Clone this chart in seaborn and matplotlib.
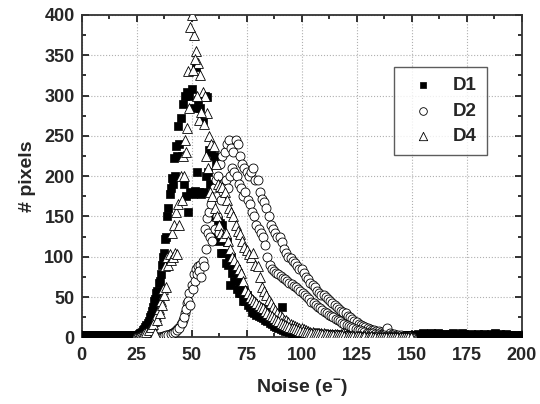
import numpy as np
import pandas as pd
import matplotlib
matplotlib.use("Agg")
import matplotlib.pyplot as plt
import seaborn as sns

# noise histograms, bins at whole and half electrons
noise_d1 = list(range(0, 201))
noise_core = list(range(25, 151))
noise_half = list(np.arange(25.5, 150, 1.0))

d1_counts = [
    3, 3, 3, 3, 3, 3, 3, 3, 3, 3,
    3, 3, 3, 3, 3, 3, 3, 3, 3, 3,
    3, 3, 3, 3, 3,
    3, 4, 6, 9, 13, 18, 25, 33, 45, 55,
    68, 78, 100, 122, 150, 178, 198, 222, 238, 262,
    272, 290, 300, 305, 300, 308, 285, 335, 295, 285,
    270, 300, 298, 232, 230, 225, 215, 145, 142, 140,
    125, 118, 100, 100, 90, 85, 75, 70, 62, 58,
    52, 48, 45, 42, 40, 38, 36, 35, 32, 30,
    28, 26, 24, 22, 20, 18, 38, 14, 12, 11,
    10, 9, 8, 8, 7, 6, 5, 5, 5, 4,
    4, 4, 4, 4, 3, 3, 4, 3, 3, 3,
    4, 3, 3, 3, 2, 3, 3, 3, 2, 3,
    3, 2, 3, 3, 2, 3, 3, 2, 3, 3,
    3, 2, 3, 3, 2, 3, 3, 3, 2, 3,
    3, 2, 3, 3, 3, 2, 3, 3, 4, 3,
    5, 3, 4, 3, 5, 4, 3, 5, 4, 3,
    4, 3, 4, 3, 5, 3, 4, 3, 5, 4,
    3, 3, 4, 3, 3, 4, 3, 3, 4, 3,
    3, 4, 3, 5, 3, 4, 3, 3, 4, 3,
    3, 2, 3, 3, 2, 3,
]
d1_half = [
    3, 5, 7, 10, 15, 20, 28, 38, 48, 58,
    70, 90, 105, 125, 160, 185, 190, 200, 225, 240,
    225, 190, 175, 155, 180, 178, 182, 205, 180, 178,
    180, 200, 205, 190, 150, 130, 125, 120, 105, 105,
    92, 90, 65, 80, 70, 60, 55, 55, 45, 45,
    40, 38, 32, 30, 28, 27, 25, 24, 22, 20,
    18, 16, 14, 13, 12, 10, 9, 8, 8, 7,
    6, 6, 5, 5, 5, 5, 4, 4, 4, 4,
    3, 3, 4, 3, 3, 3, 3, 4, 3, 3,
    3, 3, 2, 3, 3, 3, 2, 3, 3, 3,
    2, 3, 3, 2, 3, 3, 2, 3, 3, 2,
    3, 3, 2, 3, 3, 2, 3, 3, 3, 2,
    3, 3, 2, 3, 3,
]

d2_counts = [
    1, 1, 1, 1, 1, 1, 1, 1, 1, 1,
    1, 1, 2, 2, 3, 4, 5, 7, 9, 12,
    16, 22, 30, 42, 55, 65, 78, 85, 88, 90,
    95, 135, 148, 155, 165, 185, 195, 200, 215, 225,
    230, 240, 245, 235, 230, 245, 240, 225, 215, 210,
    205, 200, 205, 210, 195, 195, 180, 172, 168, 160,
    150, 140, 135, 130, 125, 125, 118, 110, 105, 100,
    98, 95, 92, 88, 85, 85, 80, 75, 72, 68,
    65, 62, 58, 55, 52, 52, 50, 48, 45, 42,
    40, 38, 35, 33, 32, 30, 27, 25, 23, 20,
    19, 17, 15, 14, 13, 12, 10, 9, 9, 8,
    8, 7, 6, 6, 11, 5, 4, 4, 3, 3,
    3, 2, 2, 2, 2, 1,
]
d2_half = [
    1, 1, 1, 1, 1, 1, 1, 1, 1, 1,
    1, 1, 2, 3, 3, 4, 6, 7, 9, 12,
    18, 25, 35, 45, 40, 60, 70, 78, 82, 75,
    88, 110, 130, 125, 120, 135, 150, 130, 170, 180,
    195, 185, 200, 210, 205, 200, 190, 185, 175, 180,
    170, 165, 155, 150, 140, 135, 130, 125, 115, 100,
    90, 85, 82, 80, 78, 76, 74, 72, 70, 68,
    66, 64, 62, 60, 58, 55, 52, 50, 47, 44,
    42, 40, 38, 36, 34, 32, 30, 28, 27, 25,
    23, 22, 20, 18, 17, 15, 14, 13, 12, 10,
    9, 9, 8, 7, 6, 6, 5, 5, 4, 4,
    3, 3, 3, 2, 2, 2, 2, 1, 1, 1,
    1, 1, 1, 1, 1,
]

d4_counts = [
    1, 2, 3, 4, 6, 8, 11, 15, 20, 26,
    35, 45, 60, 88, 100, 104, 130, 140, 155, 165,
    200, 225, 245, 260, 285, 400, 375, 355, 340, 326,
    305, 300, 278, 250, 240, 237, 215, 190, 188, 187,
    180, 170, 160, 155, 150, 140, 132, 128, 120, 112,
    108, 104, 100, 105, 90, 88, 75, 63, 58, 52,
    46, 42, 38, 34, 30, 28, 25, 22, 21, 19,
    17, 15, 14, 13, 12, 11, 10, 9, 8, 7,
    7, 6, 6, 5, 5, 5, 4, 4, 4, 4,
    4, 4, 3, 4, 5, 3, 3, 2, 3, 2,
    2, 2, 2, 2, 2, 2, 1, 2, 1, 2,
    1, 1, 1, 1, 1, 1, 1, 1, 1, 1,
    1, 1, 1, 1, 1, 1,
]
d4_half = [
    1, 2, 3, 5, 7, 9, 13, 17, 5, 21,
    30, 40, 52, 63, 90, 96, 100, 105, 104, 140,
    170, 200, 230, 330, 385, 332, 345, 300, 270, 280,
    265, 225, 210, 180, 175, 160, 150, 140, 129, 125,
    130, 120, 110, 100, 96, 90, 85, 80, 70, 59,
    55, 50, 48, 45, 42, 40, 38, 36, 33, 30,
    28, 26, 24, 22, 20, 18, 17, 15, 14, 13,
    12, 11, 10, 9, 8, 8, 7, 7, 6, 6,
    5, 5, 5, 4, 4, 4, 4, 3, 3, 3,
    3, 3, 3, 3, 2, 2, 2, 2, 2, 2,
    2, 2, 1, 2, 1, 1, 2, 1, 1, 1,
    1, 1, 1, 1, 1, 1, 1, 1, 1, 1,
    1, 1, 1, 1, 1,
]

x_ticks = [0, 25, 50, 75, 100, 125, 150, 175, 200]
y_ticks = [0, 50, 100, 150, 200, 250, 300, 350, 400]

sns.set_style("ticks")
plt.rcParams["font.family"] = ["Liberation Sans", "DejaVu Sans"]
plt.rcParams["font.weight"] = "bold"
plt.rcParams["mathtext.fontset"] = "custom"
plt.rcParams["mathtext.rm"] = "Liberation Sans:bold"
plt.rcParams["mathtext.bf"] = "Liberation Sans:bold"

df1 = pd.DataFrame({"noise": noise_d1 + noise_half, "pixels": d1_counts + d1_half})
df2 = pd.DataFrame({"noise": noise_core + noise_half, "pixels": d2_counts + d2_half})
df4 = pd.DataFrame({"noise": noise_core + noise_half, "pixels": d4_counts + d4_half})

fig = plt.figure(figsize=(5.4, 4.04), dpi=100)
ax = fig.add_axes([0.151, 0.165, 0.815, 0.798])

sns.scatterplot(data=df1, x="noise", y="pixels", marker="s", s=32, color="black",
                edgecolor="black", linewidth=0.5, label="D1", ax=ax, zorder=3)
sns.scatterplot(data=df2, x="noise", y="pixels", marker="o", s=42, facecolor="white",
                edgecolor="black", linewidth=0.6, label="D2", ax=ax, zorder=3)
sns.scatterplot(data=df4, x="noise", y="pixels", marker="^", s=50, facecolor="white",
                edgecolor="black", linewidth=0.6, label="D4", ax=ax, zorder=3)

ax.set_xlim(0, 200)
ax.set_ylim(0, 400)
ax.set_xticks(x_ticks)
ax.set_yticks(y_ticks)
ax.set_xticks(np.arange(12.5, 200, 25), minor=True)
ax.set_yticks(np.arange(25, 400, 50), minor=True)
ax.grid(True, which="major", linestyle=":", color="#b0b0b0", linewidth=0.8)
ax.set_axisbelow(True)

ax.tick_params(which="both", direction="in", top=True, right=True,
               labelsize=13, width=1.3, color="#222222")
ax.tick_params(axis="x", which="major", pad=7)
ax.tick_params(axis="y", which="major", pad=5)
ax.tick_params(which="major", length=5)
ax.tick_params(which="minor", length=3)
for sp in ax.spines.values():
    sp.set_linewidth(1.3)
    sp.set_color("#333333")
    sp.set_visible(True)

ax.set_xlabel(r"Noise (e$^{-}$)", fontsize=14, fontweight="bold", labelpad=10)
ax.set_ylabel("# pixels", fontsize=14, fontweight="bold", labelpad=6)

leg = ax.legend(loc="upper left", bbox_to_anchor=(0.710, 0.840), fontsize=13.5,
                frameon=True, fancybox=False, edgecolor="#333333",
                borderpad=0.55, handlelength=2.0, handletextpad=0.6,
                labelspacing=0.45, markerscale=0.85, borderaxespad=0)
leg.get_frame().set_linewidth(1.0)
for t in leg.get_texts():
    t.set_fontweight("bold")

fig.savefig("out.png", dpi=100)
